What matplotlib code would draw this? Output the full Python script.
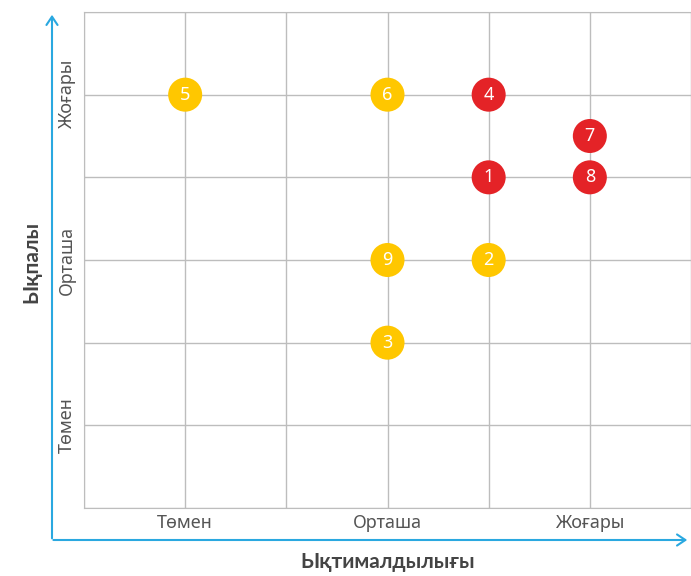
import matplotlib.pyplot as plt

# Risk matrix data
levels = ['Төмен', 'Орташа', 'Жоғары']
level_pos = [1, 3, 5]

risk_ids = ['1', '2', '3', '4', '5', '6', '7', '8', '9']
likelihood = [4, 4, 3, 4, 1, 3, 5, 5, 3]
impact = [4, 3, 2, 5, 5, 5, 4.5, 4, 3]
severity = ['high', 'medium', 'medium', 'high', 'medium', 'medium', 'high', 'high', 'medium']

colors = {'high': '#E42327', 'medium': '#FFC700'}
grid_c = '#BDBDBD'
blue = '#2AA8E0'
text_c = '#555555'

plt.rcParams['font.family'] = ['Noto Sans', 'DejaVu Sans']

fig = plt.figure(figsize=(6.91, 5.76), dpi=100)
ax = fig.add_axes([84/691, 1 - 508/576, 607/691, 496/576])

ax.set_xlim(0, 6)
ax.set_ylim(0, 6)
ax.set_xticks(range(0, 7))
ax.set_yticks(range(0, 7))
ax.grid(True, color=grid_c, lw=1)
ax.set_axisbelow(True)
ax.tick_params(length=0, labelbottom=False, labelleft=False)
for s in ['left', 'bottom', 'top']:
    ax.spines[s].set_color(grid_c)
ax.spines['right'].set_visible(False)

for p, lab in zip(level_pos, levels):
    ax.text(p, -0.18, lab, ha='center', va='center', fontsize=13, color=text_c)
    ax.text(-0.17, p, lab, ha='center', va='center', rotation=90, fontsize=13, color=text_c)

for rid, x, y, sv in zip(risk_ids, likelihood, impact, severity):
    ax.scatter(x, y, s=600, color=colors[sv], zorder=3, edgecolors='none', clip_on=False)
    ax.text(x, y, rid, ha='center', va='center', color='white', fontsize=13, zorder=4)

# blue axis arrows
x0, y0 = 52/691, 1 - 540/576
ax.annotate('', xy=(x0, 1 - 12/576), xytext=(x0, y0 - 0.002), xycoords='figure fraction',
            arrowprops=dict(arrowstyle='->,head_length=0.6,head_width=0.4', color=blue, lw=1.5))
ax.annotate('', xy=(690/691, y0), xytext=(x0 - 0.002, y0), xycoords='figure fraction',
            arrowprops=dict(arrowstyle='->,head_length=0.6,head_width=0.4', color=blue, lw=1.5))

fig.text(31/691, 1 - 262/576, 'Ықпалы', rotation=90, ha='center', va='center',
         fontsize=15, fontweight='bold', color='#444444', family=['Lato', 'DejaVu Sans'])
fig.text(388/691, 1 - 562/576, 'Ықтималдылығы', ha='center', va='center',
         fontsize=15, fontweight='bold', color='#444444', family=['Lato', 'DejaVu Sans'])

fig.savefig('out.png', dpi=100)
